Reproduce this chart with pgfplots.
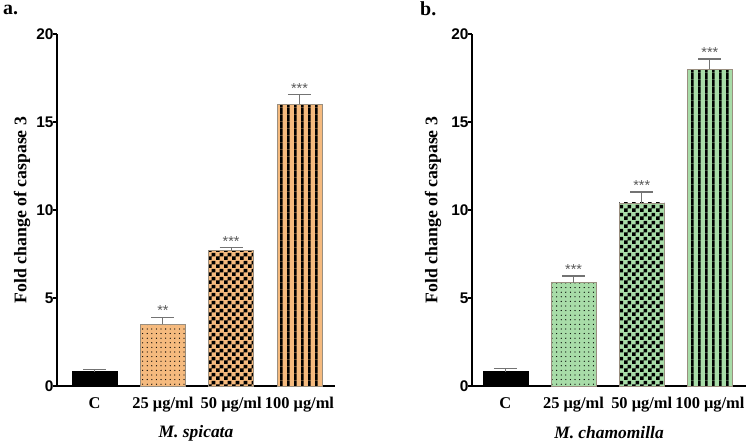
\documentclass[border=0pt]{standalone}
\usepackage{fontspec}
\setmainfont{Liberation Serif}
\newfontfamily\arialf{Liberation Sans}
\usepackage{pgfplots}
\pgfplotsset{compat=1.18}
\usetikzlibrary{patterns}

\definecolor{myorange}{HTML}{F5BA7E}
\definecolor{mygreen}{HTML}{A8DCA8}
\definecolor{edgec}{HTML}{9A8F80}

\pgfdeclarepatternformonly{vstripes}{\pgfqpoint{0bp}{0bp}}{\pgfqpoint{7.2bp}{7.2bp}}{\pgfqpoint{7.2bp}{7.2bp}}{%
  \pgfpathrectangle{\pgfqpoint{0bp}{0bp}}{\pgfqpoint{3bp}{7.2bp}}\pgfusepath{fill}}
\pgfdeclarepatternformonly{mychecker}{\pgfqpoint{0bp}{0bp}}{\pgfqpoint{8bp}{8bp}}{\pgfqpoint{8bp}{8bp}}{%
  \pgfpathrectangle{\pgfqpoint{0bp}{0bp}}{\pgfqpoint{4bp}{4bp}}%
  \pgfpathrectangle{\pgfqpoint{4bp}{4bp}}{\pgfqpoint{4bp}{4bp}}\pgfusepath{fill}}
\pgfdeclarepatternformonly{mydots}{\pgfqpoint{-1bp}{-1bp}}{\pgfqpoint{1bp}{1bp}}{\pgfqpoint{4.6bp}{4.6bp}}{%
  \pgfpathcircle{\pgfqpoint{0bp}{0bp}}{0.65bp}\pgfusepath{fill}}

\pgfplotsset{
  cas/.style={
    scale only axis, height=352bp, ymin=0, ymax=20, ytick={0,5,10,15,20},
    axis x line*=bottom, axis y line*=left,
    axis line style={line width=2.5bp, black},
    ybar, bar width=45bp,
    xtick={0,1,2,3}, xticklabels={C, 25 μg/ml, 50 μg/ml, 100 μg/ml},
    xtick style={draw=none},
    ytick style={line width=1.5bp, black}, tick align=outside, major tick length=4bp,
    /pgf/number format/assume math mode=true,
    yticklabel style={font=\arialf\bfseries\fontsize{15.5}{18}\selectfont, xshift=4bp},
    xticklabel style={font=\bfseries\fontsize{16.5}{19}\selectfont, yshift=-4bp},
    ylabel={Fold change of caspase 3},
    ylabel style={font=\bfseries\fontsize{17.8}{21}\selectfont, anchor=center},
    xlabel style={font=\bfseries\itshape\fontsize{17.5}{20}\selectfont, at={(axis description cs:0.5,0)}, anchor=center, yshift=-47bp},
    clip=false,
  },
  mybar/.style={bar shift=0pt, draw=edgec, line width=0.8bp,
    error bars/y dir=plus, error bars/y explicit,
    error bars/error bar style={line width=1.1bp, black!55},
    error bars/error mark options={rotate=90, line width=1.1bp, black!55, mark size=11.5bp}},
  stars/.style={bar shift=0pt, draw=none, fill=none, nodes near coords,
    point meta=explicit symbolic,
    every node near coord/.append style={font=\arialf\fontsize{14.5}{14}\selectfont, text=black!65, anchor=south, yshift=-2bp}},
}

\begin{document}
\begin{tikzpicture}
\useasboundingbox (0,0) rectangle (750bp,444bp);
\node[anchor=base west, font=\bfseries\fontsize{20}{22}\selectfont, inner sep=0pt] at (3bp,429bp) {a.};
\node[anchor=base west, font=\bfseries\fontsize{20}{22}\selectfont, inner sep=0pt] at (420bp,428bp) {b.};

\begin{axis}[cas, at={(57bp,58bp)}, anchor=south west, width=278bp,
  xmin=-0.55, xmax=3.52, xlabel={M. spicata},
  ylabel style={at={(axis description cs:-0.126,0.5)}}]
\addplot[mybar, fill=black, draw=black] coordinates {(0,0.82) +- (0,0.11)};
\addplot[mybar, fill=myorange, postaction={pattern=mydots}] coordinates {(1,3.50) +- (0,0.41)};
\addplot[mybar, fill=myorange, postaction={pattern=mychecker}] coordinates {(2,7.68) +- (0,0.17)};
\addplot[mybar, fill=myorange, postaction={pattern=vstripes}] coordinates {(3,16.00) +- (0,0.54)};
\addplot[stars] coordinates {(1,3.91)[**] (2,7.85)[***] (3,16.54)[***]};
\end{axis}

\begin{axis}[cas, at={(472bp,58bp)}, anchor=south west, width=274bp,
  xmin=-0.49, xmax=3.53, xlabel={M. chamomilla},
  ylabel style={at={(axis description cs:-0.142,0.5)}}]
\addplot[mybar, fill=black, draw=black] coordinates {(0,0.82) +- (0,0.16)};
\addplot[mybar, fill=mygreen, postaction={pattern=mydots}] coordinates {(1,5.88) +- (0,0.37)};
\addplot[mybar, fill=mygreen, postaction={pattern=mychecker}] coordinates {(2,10.40) +- (0,0.62)};
\addplot[mybar, fill=mygreen, postaction={pattern=vstripes}] coordinates {(3,18.00) +- (0,0.58)};
\addplot[stars] coordinates {(1,6.25)[***] (2,11.02)[***] (3,18.58)[***]};
\end{axis}
\end{tikzpicture}
\end{document}
